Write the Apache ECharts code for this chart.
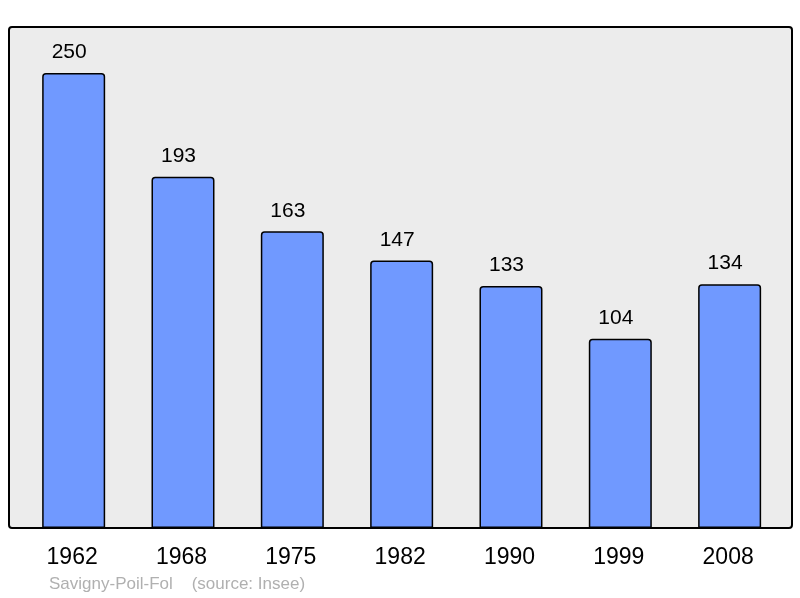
<!DOCTYPE html>
<html><head><meta charset="utf-8">
<script src="https://cdn.jsdelivr.net/npm/echarts@6/dist/echarts.min.js"></script>
<style>html,body{margin:0;padding:0;background:#fff}#c{width:800px;height:598px}</style>
</head><body><div id="c"></div>
<script>
const years = ['1962','1968','1975','1982','1990','1999','2008'];
const population = [250,193,163,147,133,104,134];
const footer = 'Savigny-Poil-Fol    (source: Insee)';

const chart = echarts.init(document.getElementById('c'), null, {renderer:'canvas'});
chart.setOption({
  animation:false,
  backgroundColor:'#ffffff',
  textStyle:{fontFamily:'Liberation Sans, Arial, sans-serif'},
  graphic:[
    {type:'rect', z:-10, shape:{x:9,y:27,width:783,height:501,r:3},
     style:{fill:'#ececec',stroke:'#000',lineWidth:2}},
    {type:'text', left:49, top:576, z:10,
     style:{text:footer, fill:'#b0b0b0', font:'17px "Liberation Sans", Arial, sans-serif'}}
  ],
  grid:{left:19, top:27, width:765.3, height:501, containLabel:false},
  xAxis:{type:'category', data:years,
    axisLine:{show:false}, axisTick:{show:false},
    axisLabel:{fontSize:23, color:'#000', margin:18, padding:[0,3,0,0], fontFamily:'Liberation Sans, Arial, sans-serif'}},
  yAxis:{type:'value', min:0, max:275.3, show:false, splitLine:{show:false}},
  series:[{type:'bar', data:population, barWidth:63,
    itemStyle:{color:'#7099ff', borderColor:'#000', borderWidth:1.5, borderRadius:[3,3,0,0]},
    label:{show:true, position:'top', distance:10, offset:[-4.5,0], fontSize:21, color:'#000',
      fontFamily:'Liberation Sans, Arial, sans-serif'}}]
});
</script></body></html>
